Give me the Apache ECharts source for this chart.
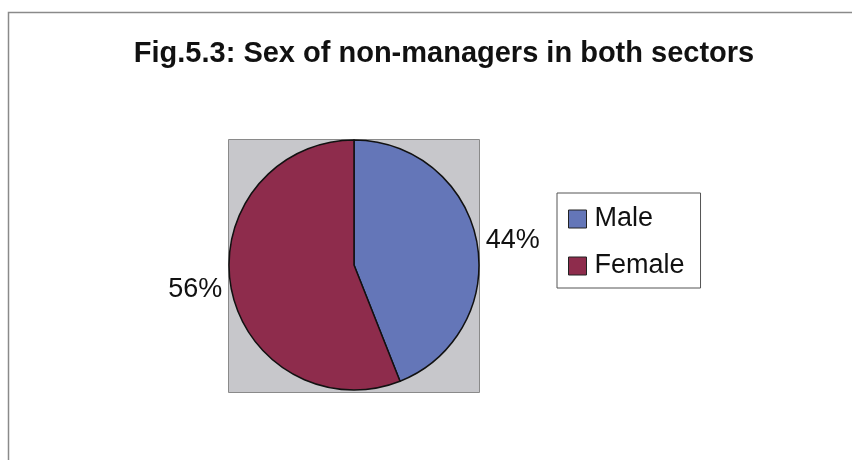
<!DOCTYPE html>
<html>
<head>
<meta charset="utf-8">
<script src="https://cdn.jsdelivr.net/npm/echarts@6/dist/echarts.min.js"></script>
<style>
  html, body { margin: 0; padding: 0; background: #ffffff; }
  #chart { width: 852px; height: 460px; }
</style>
</head>
<body>
<div id="chart"></div>
<script>
// Share of non-managers by sex (percent)
const categories = ['Male', 'Female'];
const shares = [44, 56];
const colors = ['#6476B8', '#8E2C4C'];

const chart = echarts.init(document.getElementById('chart'), null, { renderer: 'canvas' });

const center = [354, 265];
const radius = 125;
const font = 'Liberation Sans, Arial, sans-serif';

chart.setOption({
  backgroundColor: '#ffffff',
  animation: false,
  title: {
    text: 'Fig.5.3: Sex of non-managers in both sectors',
    left: 439,
    top: 34,
    textAlign: 'center',
    textStyle: {
      fontFamily: font,
      fontWeight: 'bold',
      fontSize: 29,
      color: '#111111'
    }
  },
  legend: {
    orient: 'vertical',
    left: 557,
    top: 193,
    padding: [11, 16, 7, 11],
    itemGap: 17,
    itemWidth: 18,
    itemHeight: 18,
    borderColor: '#555555',
    borderWidth: 1,
    backgroundColor: '#ffffff',
    icon: 'rect',
    itemStyle: { borderColor: '#222222', borderWidth: 1 },
    textStyle: {
      fontFamily: font,
      fontSize: 27,
      lineHeight: 30,
      color: '#111111',
      padding: [0, 0, 0, 3]
    },
    data: categories
  },
  graphic: [
    // outer frame (top and left edges)
    {
      type: 'polyline',
      shape: { points: [[8.5, 460], [8.5, 12.5], [852, 12.5]] },
      style: { stroke: '#8a8a8a', lineWidth: 1.5, fill: null },
      silent: true,
      z: 0
    },
    // plot area backdrop
    {
      type: 'rect',
      shape: { x: 228.5, y: 139.5, width: 251, height: 253 },
      style: { fill: '#C7C7CB', stroke: '#8a8a8a', lineWidth: 1 },
      silent: true,
      z: 0
    }
  ],
  series: [{
    type: 'pie',
    center: center,
    radius: radius,
    startAngle: 90,
    clockwise: true,
    z: 5,
    itemStyle: { borderColor: '#111111', borderWidth: 1.5 },
    label: {
      show: true,
      position: 'outside',
      formatter: '{c}%',
      fontFamily: font,
      fontSize: 27,
      color: '#111111'
    },
    labelLine: { show: false, length: 4, length2: 0 },
    data: categories.map((name, i) => ({
      name: name,
      value: shares[i],
      itemStyle: { color: colors[i] }
    }))
  }]
});
</script>
</body>
</html>
